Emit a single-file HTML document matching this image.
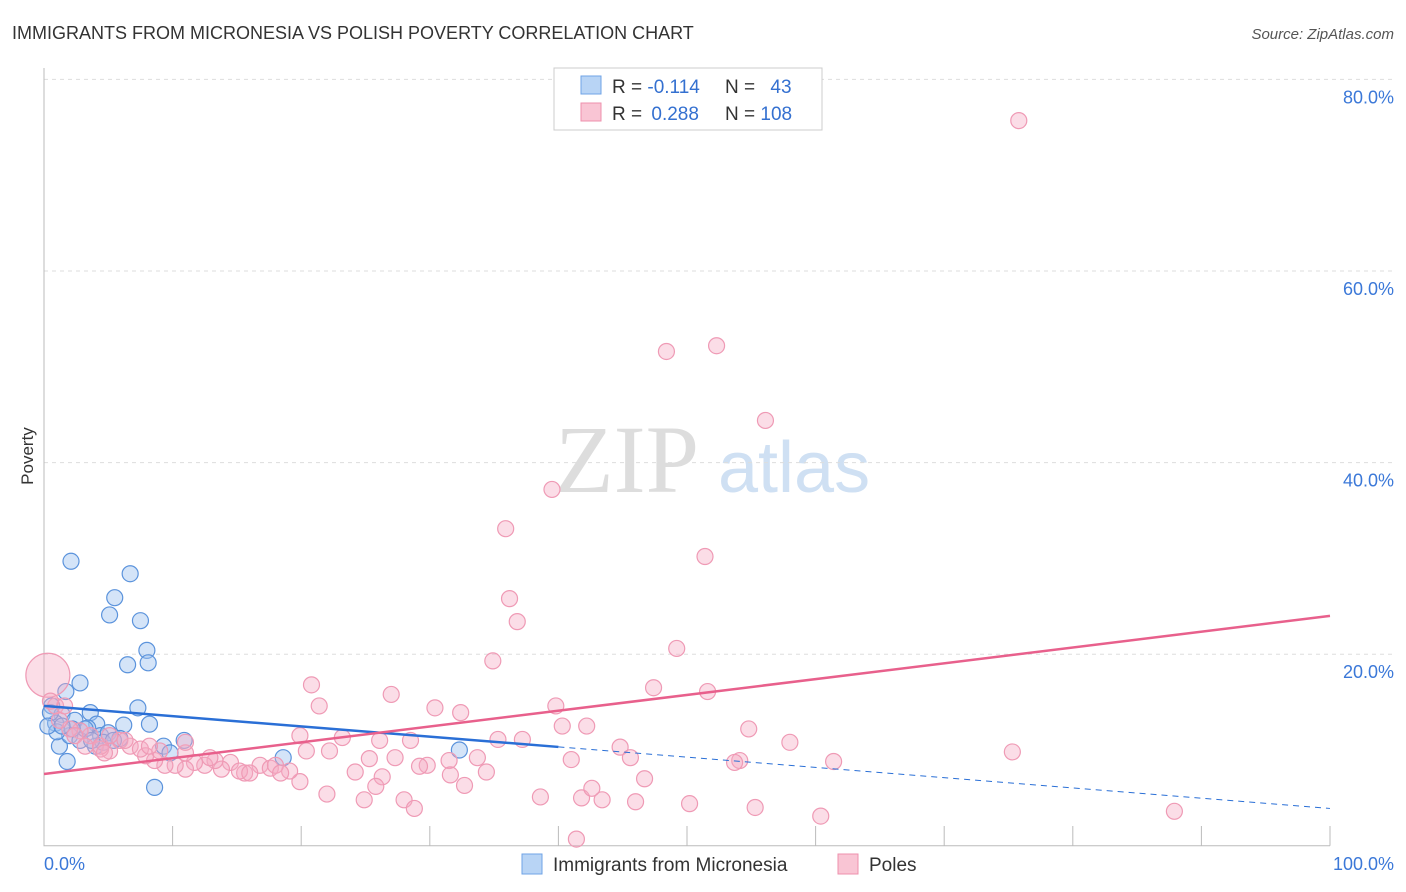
<!DOCTYPE html>
<html><head><meta charset="utf-8"><style>
body{margin:0;background:#fff;font-family:"Liberation Sans",sans-serif}
svg{display:block}
</style></head><body>
<svg id="c" width="1406" height="892">
<text x="12" y="39" font-size="18" fill="#333">IMMIGRANTS FROM MICRONESIA VS POLISH POVERTY CORRELATION CHART</text>
<text x="1394" y="39" font-size="15" fill="#555" font-style="italic" text-anchor="end">Source: ZipAtlas.com</text>
<text x="33" y="456" font-size="17" fill="#333" transform="rotate(-90 33 456)" text-anchor="middle">Poverty</text>
<text x="555" y="492" font-size="96" fill="#ddd" font-family="Liberation Serif,serif">ZIP</text>
<text x="718" y="492" font-size="72" fill="#cfe0f3">atlas</text>
<g id="grid"></g><g id="marks"></g>
<g>
<rect x="554" y="68" width="268" height="62" fill="#fff" stroke="#ccc"/>
<rect x="581" y="76" width="20" height="18" fill="#b8d4f5" stroke="#6fa3e6"/>
<rect x="581" y="103" width="20" height="18" fill="#f9c5d4" stroke="#ee90ad"/>
<text x="612" y="93" font-size="19" fill="#333">R = <tspan fill="#3470d0">-0.114</tspan></text>
<text x="725" y="93" font-size="19" fill="#333">N = <tspan fill="#3470d0" dx="10">43</tspan></text>
<text x="612" y="120" font-size="19" fill="#333">R = <tspan fill="#3470d0" dx="4">0.288</tspan></text>
<text x="725" y="120" font-size="19" fill="#333">N = <tspan fill="#3470d0">108</tspan></text>
</g>
<g>
<rect x="522" y="854" width="20" height="20" fill="#b8d4f5" stroke="#6fa3e6"/>
<text x="553" y="871" font-size="19" fill="#333">Immigrants from Micronesia</text>
<rect x="838" y="854" width="20" height="20" fill="#f9c5d4" stroke="#ee90ad"/>
<text x="869" y="871" font-size="19" fill="#333">Poles</text>
</g>
<text x="44" y="870" font-size="18" fill="#3b78d8">0.0%</text>
<text x="1394" y="870" font-size="18" fill="#3b78d8" text-anchor="end">100.0%</text>
</svg>
<script>
const yTicks=[20,40,60,80];
const xTicks=[10,20,30,40,50,60,70,80,90,100];
const blueX=[2.1,6.7,5.5,5.1,7.5,8.0,8.1,6.5,2.8,1.7,7.3,0.6,1.4,3.6,4.1,6.2,8.2,10.9,9.3,0.9,2.4,3.4,4.4,5.0,1.2,1.8,8.6,18.6,32.3,2.0,2.8,4.0,1.0,0.5,4.6,5.9,3.2,0.3,2.2,3.7,5.4,9.8,1.4];
const blueY=[29.7,28.4,25.9,24.1,23.5,20.4,19.1,18.9,17.0,16.1,14.4,14.6,13.7,13.9,12.7,12.6,12.7,11.0,10.4,12.8,13.1,12.3,11.5,11.8,10.4,8.8,6.1,9.2,10.0,11.5,11.0,10.4,11.9,13.9,10.8,11.2,12.2,12.5,12.2,11.0,11.0,9.7,12.5];
const pinkX=[75.8,52.3,48.4,56.1,39.5,35.9,51.4,36.2,36.8,49.2,34.9,20.8,47.4,51.6,27.0,21.4,39.8,30.4,32.4,54.8,42.2,40.3,23.2,28.5,35.3,37.2,58.0,75.3,44.8,45.6,54.1,53.7,61.4,41.0,33.7,31.5,29.8,29.2,27.3,25.3,24.2,26.3,31.6,34.4,46.7,32.7,25.8,22.0,24.9,28.0,28.8,38.6,41.8,43.4,46.0,42.6,50.2,55.3,60.4,87.9,41.4,19.9,20.4,22.2,19.1,16.8,17.6,15.6,14.5,13.8,13.3,12.5,11.7,11.0,10.2,9.4,8.6,7.9,9.0,11.0,12.9,15.2,16.0,18.0,18.4,6.7,5.9,5.1,4.4,7.5,8.2,3.6,2.8,2.0,1.2,0.9,1.6,2.4,3.2,4.4,0.3,0.5,5.1,6.3,4.7,26.1,19.9,11.0];
const pinkY=[75.7,52.2,51.6,44.4,37.2,33.1,30.2,25.8,23.4,20.6,19.3,16.8,16.5,16.1,15.8,14.6,14.6,14.4,13.9,12.2,12.5,12.5,11.3,11.0,11.1,11.1,10.8,9.8,10.3,9.2,8.9,8.7,8.8,9.0,9.2,8.9,8.4,8.3,9.2,9.1,7.7,7.2,7.4,7.7,7.0,6.3,6.2,5.4,4.8,4.8,3.9,5.1,5.0,4.8,4.6,6.0,4.4,4.0,3.1,3.6,0.7,6.7,9.9,9.9,7.8,8.4,8.1,7.6,8.7,8.0,8.9,8.4,8.7,8.0,8.4,8.4,8.9,9.4,9.9,9.7,9.2,7.8,7.6,8.4,7.6,10.4,11.0,9.9,10.1,10.1,10.4,11.5,12.0,12.2,13.1,14.6,14.6,11.5,10.4,10.4,17.8,15.1,11.5,11.0,9.7,11.0,11.5,10.8];
const pinkBig=[100];
const blueTrend=[14.6,3.9];
const blueSolidEnd=[40];
const pinkTrend=[7.5,24.0];
const X=v=>44+v*12.86, Y=v=>845.8-v*9.58;
const NS='http://www.w3.org/2000/svg';
const grid=document.getElementById('grid'), marks=document.getElementById('marks');
function mk(tag,attrs,parent){const e=document.createElementNS(NS,tag);for(const k in attrs)e.setAttribute(k,attrs[k]);parent.appendChild(e);return e;}
yTicks.forEach(t=>{
 const l=mk('line',{x1:44,x2:1394,y1:Y(t),y2:Y(t),stroke:'#ddd','stroke-dasharray':'4,4'},grid);
 
 
 const tx=mk('text',{x:1394,y:Y(t)+24,'font-size':18,fill:'#3b78d8','text-anchor':'end'},grid);
 tx.textContent=t.toFixed(1)+'%';
 
 
});
const axis=mk('path',{d:'M44 68V845.8H1330',stroke:'#bbb',fill:'none'},grid);


xTicks.forEach(t=>{
 const l=mk('line',{x1:X(t),x2:X(t),y1:826,y2:845.8,stroke:'#bbb'},grid);
 
 
});
blueX.forEach((v,i)=>{
 const c=mk('circle',{cx:X(v),cy:Y(blueY[i]),r:8,fill:'rgba(160,196,240,0.45)',stroke:'#5b93dc','stroke-width':1.2},marks);
 
 
});
pinkX.forEach((v,i)=>{
 const c=mk('circle',{cx:X(v),cy:Y(pinkY[i]),r:(i===pinkBig[0]?22:8),fill:'rgba(245,170,195,0.4)',stroke:'#ef9ab5','stroke-width':1.2},marks);
 
 
});
const by=x=>blueTrend[0]+(blueTrend[1]-blueTrend[0])*x/100;
const b1=mk('line',{x1:X(0),y1:Y(by(0)),x2:X(blueSolidEnd[0]),y2:Y(by(blueSolidEnd[0])),stroke:'#2a6fd6','stroke-width':2.5},marks);


const b2=mk('line',{x1:X(blueSolidEnd[0]),y1:Y(by(blueSolidEnd[0])),x2:X(100),y2:Y(by(100)),stroke:'#2a6fd6','stroke-width':1,'stroke-dasharray':'6,5'},marks);


const p1=mk('line',{x1:X(0),y1:Y(pinkTrend[0]),x2:X(100),y2:Y(pinkTrend[1]),stroke:'#e8608c','stroke-width':2.5},marks);


</script>
</body></html>
